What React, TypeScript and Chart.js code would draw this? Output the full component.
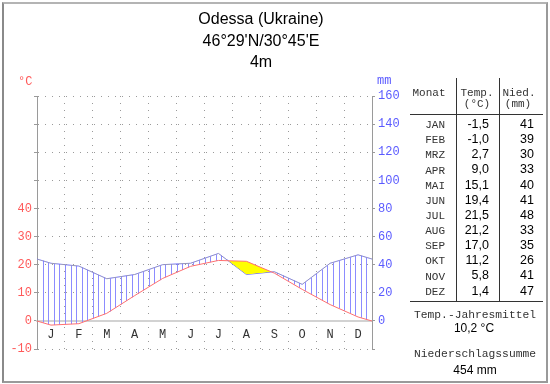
import React, { useEffect, useRef } from 'react';
import { Chart, registerables } from 'chart.js';

Chart.register(...registerables);

// ---------- data ----------
const monthLetters = ['J', 'F', 'M', 'A', 'M', 'J', 'J', 'A', 'S', 'O', 'N', 'D'];
const monthNames = ['JAN', 'FEB', 'MRZ', 'APR', 'MAI', 'JUN', 'JUL', 'AUG', 'SEP', 'OKT', 'NOV', 'DEZ'];
const tempValues = [-1.5, -1.0, 2.7, 9.0, 15.1, 19.4, 21.5, 21.2, 17.0, 11.2, 5.8, 1.4];
const precipValues = [41, 39, 30, 33, 40, 41, 48, 33, 35, 26, 41, 47];
const tempTickLabels = [-10, 0, 10, 20, 30, 40];
const precipTickLabels = [0, 20, 40, 60, 80, 100, 120, 140, 160];
const titleLines = ['Odessa (Ukraine)', "46°29'N/30°45'E", '4m'];
const annualMeanTemp = '10,2 °C';
const annualPrecipSum = '454 mm';

const fmt = (v: number) => v.toFixed(1).replace('.', ',');

// month centres plus wrap-around edges (mean of Dec and Jan)
function wrapSeries(vals: number[]) {
  const edge = (vals[0] + vals[vals.length - 1]) / 2;
  const pts: { x: number; y: number }[] = [{ x: 0, y: edge }];
  vals.forEach((v, i) => pts.push({ x: i + 0.5, y: v }));
  pts.push({ x: vals.length, y: edge });
  return pts;
}

const tempPts = wrapSeries(tempValues);
const precipPts = wrapSeries(precipValues);

function interp(pts: { x: number; y: number }[], xv: number) {
  for (let i = 0; i < pts.length - 1; i++) {
    if (xv >= pts[i].x && xv <= pts[i + 1].x) {
      const f = (xv - pts[i].x) / (pts[i + 1].x - pts[i].x);
      return pts[i].y + f * (pts[i + 1].y - pts[i].y);
    }
  }
  return pts[pts.length - 1].y;
}

const RED = '#ff5a5a';
const BLUE = '#5a5aff';
const GRID = '#9a9a9a';
const MONO = '"Liberation Mono", "DejaVu Sans Mono", monospace';
const SANS = '"Liberation Sans", Arial, sans-serif';
const TABLE_TXT = '#333';

const hatchPlugin = {
  id: 'hatch',
  beforeDatasetsDraw(chart: any) {
    const { ctx, scales } = chart;
    const x = scales.x, yT = scales.yT, yP = scales.yP;
    ctx.save();
    ctx.strokeStyle = '#8c8cff';
    ctx.lineWidth = 1;
    const n = monthLetters.length * 5;
    for (let k = 1; k < n; k++) {
      const xv = k / 5;
      const px = Math.round(x.getPixelForValue(xv)) + 0.5;
      const ty = yT.getPixelForValue(interp(tempPts, xv));
      const py = yP.getPixelForValue(interp(precipPts, xv));
      if (py < ty - 0.5) {
        ctx.beginPath();
        ctx.moveTo(px, py);
        ctx.lineTo(px, ty);
        ctx.stroke();
      }
    }
    ctx.restore();
  },
};

// ---------- text helper ----------
type TxtProps = {
  x: number;
  y: number; // baseline
  fs: number;
  mono?: boolean;
  align?: 'left' | 'right' | 'center';
  color?: string;
  children: React.ReactNode;
};
function Txt({ x, y, fs, mono, align = 'left', color = '#000', children }: TxtProps) {
  const k = mono ? 0.7665 : 0.8465;
  const top = y - k * fs;
  const style: React.CSSProperties = {
    position: 'absolute',
    top,
    fontFamily: mono ? MONO : SANS,
    fontSize: fs,
    lineHeight: `${fs}px`,
    color,
    whiteSpace: 'pre',
  };
  if (align === 'left') style.left = x;
  else if (align === 'right') {
    style.right = 550 - x;
  } else {
    style.left = x - 100;
    style.width = 200;
    style.textAlign = 'center';
  }
  return <div style={style}>{children}</div>;
}

function Line({ x, y, w, h, c = '#333' }: { x: number; y: number; w: number; h: number; c?: string }) {
  return <div style={{ position: 'absolute', left: x, top: y, width: w, height: h, background: c }} />;
}

export default function App() {
  const canvasRef = useRef<HTMLCanvasElement | null>(null);

  useEffect(() => {
    const canvas = canvasRef.current;
    if (!canvas) return;
    const chart = new Chart(canvas, {
      type: 'line',
      data: {
        datasets: [
          {
            label: 'Temp',
            data: tempPts,
            xAxisID: 'x',
            yAxisID: 'yT',
            borderColor: '#ff7070',
            borderWidth: 1,
            pointRadius: 0,
            tension: 0,
            fill: { target: 1, above: '#ffff00', below: 'rgba(0,0,0,0)' },
          },
          {
            label: 'Nied',
            data: precipPts,
            xAxisID: 'x',
            yAxisID: 'yP',
            borderColor: '#7070ff',
            borderWidth: 1,
            pointRadius: 0,
            tension: 0,
            fill: false,
          },
        ],
      },
      options: {
        animation: false,
        responsive: false,
        events: [],
        layout: { padding: { top: 96, bottom: 35, left: 0, right: 0 } },
        plugins: {
          legend: { display: false },
          title: { display: false },
          tooltip: { enabled: false },
        },
        scales: {
          x: {
            type: 'linear',
            min: 0,
            max: 12,
            position: { yT: 0 } as any,
            afterBuildTicks: (s: any) => {
              const t: { value: number }[] = [];
              for (let i = 0; i <= 24; i++) t.push({ value: i / 2 });
              s.ticks = t;
            },
            ticks: {
              autoSkip: false,
              maxRotation: 0,
              padding: 7,
              color: '#333',
              font: { family: MONO, size: 12 },
              callback: (v: any) => (v % 1 !== 0 ? monthLetters[Math.floor(v)] : ''),
            },
            grid: {
              color: (c: any) => {
                const v = c.tick ? c.tick.value : 0;
                return v > 0 && v < 12 && Number.isInteger(v) ? GRID : 'rgba(0,0,0,0)';
              },
              drawTicks: false,
              lineWidth: 1,
            },
            border: { color: '#d2d2d2', width: 2, dash: [1, 6] },
          },
          yT: {
            type: 'linear',
            position: 'left',
            min: -10,
            max: 80,
            ticks: {
              stepSize: 10,
              padding: 2,
              color: RED,
              font: { family: MONO, size: 12 },
              callback: (v: any) => (tempTickLabels.includes(v) ? String(v) : ''),
            },
            grid: {
              color: (c: any) => (c.tick && c.tick.value === 0 ? 'rgba(0,0,0,0)' : GRID),
              tickColor: GRID,
              tickLength: 3,
              lineWidth: 1,
            },
            border: { color: GRID, width: 1, dash: [1, 6] },
            afterFit: (s: any) => {
              s.width = 37;
            },
          },
          yP: {
            type: 'linear',
            position: 'right',
            min: -20,
            max: 160,
            ticks: {
              stepSize: 20,
              padding: 3,
              color: BLUE,
              font: { family: MONO, size: 12 },
              callback: (v: any) => (precipTickLabels.includes(v) ? String(v) : ''),
            },
            grid: { drawOnChartArea: false, tickColor: GRID, tickLength: 3 },
            border: { color: GRID, width: 1 },
            afterFit: (s: any) => {
              s.width = 178;
            },
          },
        },
      } as any,
      plugins: [hatchPlugin],
    });
    return () => chart.destroy();
  }, []);

  const rowBase = 128.5;
  const rowStep = 15.15;

  return (
    <div style={{ position: 'absolute', left: 0, top: 0, width: 550, height: 384, background: '#fff', overflow: 'hidden' }}>
      <canvas ref={canvasRef} width={550} height={384} style={{ position: 'absolute', left: 0, top: 0, width: 550, height: 384 }} />
      <div
        style={{
          position: 'absolute',
          left: 2,
          top: 2,
          width: 546,
          height: 381,
          boxSizing: 'border-box',
          borderStyle: 'solid',
          borderWidth: 2,
          borderColor: '#b4b4b4 #9a9a9a #9a9a9a #8a8a8a',
        }}
      />
      {titleLines.map((t, i) => (
        <Txt key={i} x={261} y={25 + i * 21.5} fs={16} align="center">
          {t}
        </Txt>
      ))}
      <Txt x={18} y={85} fs={12} mono color={RED}>°C</Txt>
      <Txt x={377} y={84} fs={12} mono color={BLUE}>mm</Txt>

      {/* table */}
      <Txt x={429} y={96} fs={11} mono align="center" color={TABLE_TXT}>Monat</Txt>
      <Txt x={477} y={96} fs={11} mono align="center" color={TABLE_TXT}>Temp.</Txt>
      <Txt x={477} y={107} fs={11} mono align="center" color={TABLE_TXT}>(°C)</Txt>
      <Txt x={519} y={96} fs={11} mono align="center" color={TABLE_TXT}>Nied.</Txt>
      <Txt x={518} y={107} fs={11} mono align="center" color={TABLE_TXT}>(mm)</Txt>
      <Line x={410} y={114} w={133} h={1} />
      <Line x={410} y={301} w={133} h={1} />
      <Line x={456} y={78} w={1} h={223} />
      <Line x={499} y={78} w={1} h={223} />
      {monthNames.map((m, i) => (
        <React.Fragment key={m}>
          <Txt x={445} y={rowBase + i * rowStep} fs={11} mono align="right" color={TABLE_TXT}>{m}</Txt>
          <Txt x={489} y={rowBase + i * rowStep} fs={12.5} align="right">{fmt(tempValues[i])}</Txt>
          <Txt x={534} y={rowBase + i * rowStep} fs={12.5} align="right">{String(precipValues[i])}</Txt>
        </React.Fragment>
      ))}
      <Txt x={475} y={319} fs={11.3} mono align="center" color={TABLE_TXT}>Temp.-Jahresmittel</Txt>
      <Txt x={474} y={332} fs={12} align="center">{annualMeanTemp}</Txt>
      <Txt x={475} y={358} fs={11.3} mono align="center" color={TABLE_TXT}>Niederschlagssumme</Txt>
      <Txt x={475} y={374} fs={12} align="center">{annualPrecipSum}</Txt>
    </div>
  );
}
